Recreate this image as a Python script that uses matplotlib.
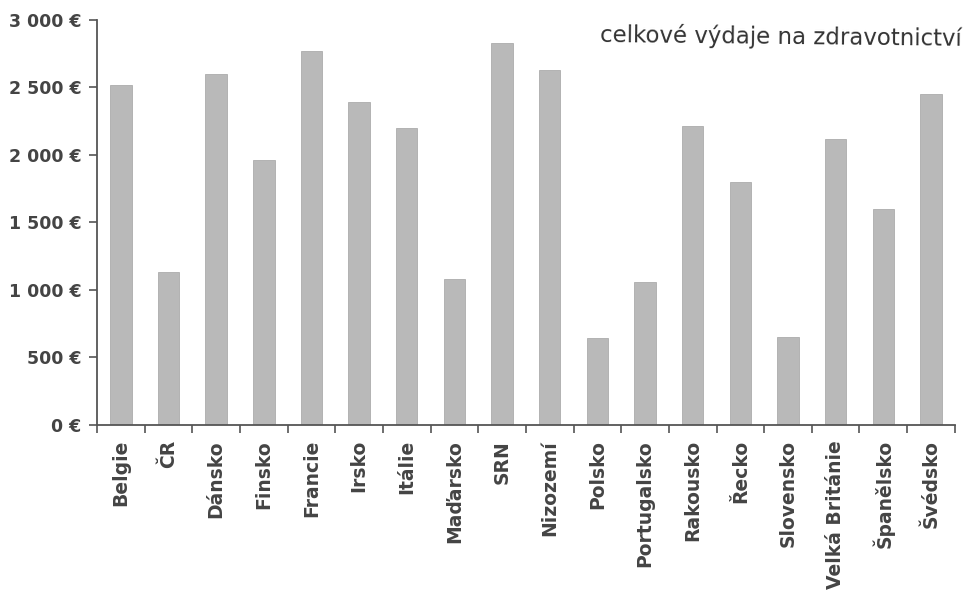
import matplotlib
matplotlib.use("Agg")
import matplotlib.pyplot as plt
import numpy as np

# per-capita health spending, EUR
countries = ["Belgie", "ČR", "Dánsko", "Finsko", "Francie", "Irsko", "Itálie",
             "Maďarsko", "SRN", "Nizozemí", "Polsko", "Portugalsko", "Rakousko",
             "Řecko", "Slovensko", "Velká Británie", "Španělsko", "Švédsko"]
spending = [2520, 1135, 2600, 1965, 2770, 2390, 2200, 1080, 2830, 2630,
            640, 1060, 2210, 1800, 650, 2120, 1600, 2450]
yticks = [0, 500, 1000, 1500, 2000, 2500, 3000]
ylabels = ["0 €", "500 €", "1 000 €", "1 500 €", "2 000 €", "2 500 €", "3 000 €"]
title = "celkové výdaje na zdravotnictví"

text_col = "#444444"
axis_col = "#555555"

fig = plt.figure(figsize=(9.66, 6.0), dpi=100)
ax = fig.add_axes([0.1004, 0.292, 0.888, 0.675])

x = np.arange(len(countries))
ax.bar(x, spending, width=0.45, color="#b9b9b9", edgecolor="#acacac", linewidth=0.6)

ax.set_xlim(-0.5, len(countries) - 0.5)
ax.set_ylim(0, 3000)

ax.set_yticks(yticks)
ax.set_yticklabels(ylabels, fontsize=12.5, fontweight="bold", color=text_col)
ax.tick_params(axis="y", direction="out", length=6, width=1.2, color=axis_col, pad=5)

# ticks between categories, labels under the bars
ax.set_xticks(np.arange(len(countries) + 1) - 0.5)
ax.set_xticklabels([])
ax.set_xticks(x, minor=True)
ax.set_xticklabels(countries, minor=True, rotation=90, fontsize=13.5,
                   fontweight="bold", color=text_col)
ax.tick_params(axis="x", which="major", direction="out", length=6, width=1.2,
               color=axis_col)
ax.tick_params(axis="x", which="minor", length=0, pad=11)

for side in ["top", "right"]:
    ax.spines[side].set_visible(False)
for side in ["left", "bottom"]:
    ax.spines[side].set_color(axis_col)
    ax.spines[side].set_linewidth(1.3)

fig.text(0.996, 0.938, title, ha="right", va="center", fontsize=16.5,
         color="#333333", rotation=-0.6)

fig.savefig("out.png", dpi=100)
